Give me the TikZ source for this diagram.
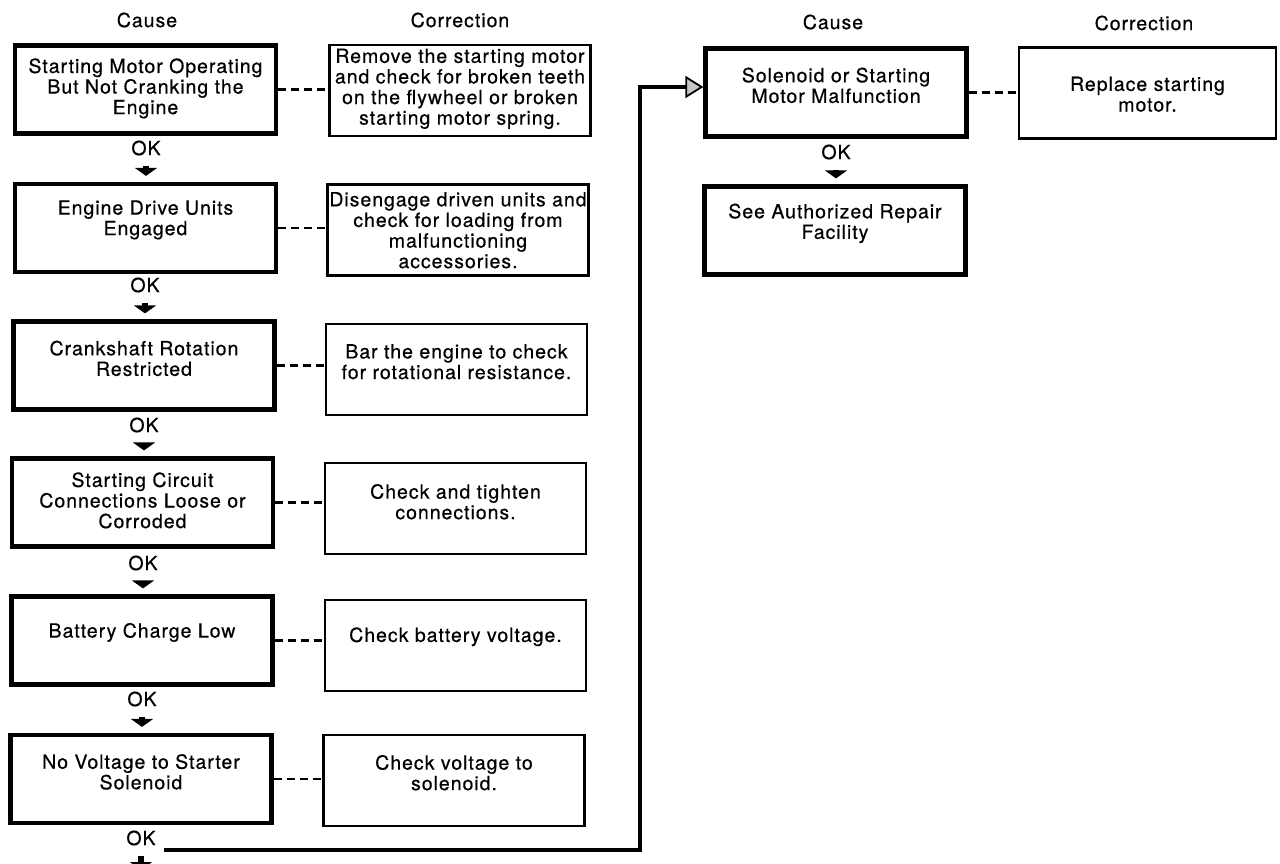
\documentclass[tikz,border=0pt]{standalone}
\usepackage{fontspec}
\setmainfont{TeX Gyre Heros}[LetterSpace=5,FakeBold=0.5]
\usetikzlibrary{arrows.meta,calc}
\begin{document}
\begin{tikzpicture}[x=1pt,y=-1pt,
  every node/.style={font=\fontsize{19.5}{20.6}\selectfont},
  causebox/.style={draw, line width=4.2pt, minimum width=261pt, minimum height=88pt, inner sep=0pt},
  corrbox/.style={draw, line width=2.5pt, minimum width=261pt, minimum height=91pt, inner sep=0pt},
  txt/.style={align=center, inner sep=0pt},
  hdr/.style={inner sep=0pt},
  oklbl/.style={inner sep=0pt},
  linkline/.style={line width=2.3pt, dash pattern=on 8pt off 5pt},
  okarrow/.style={line width=6pt, -{Triangle[length=8pt,width=22pt]}, shorten <=10pt, shorten >=6pt},
  flow/.style={line width=3.4pt, -{Triangle[length=18pt,width=22pt,fill=gray!45,line width=1.8pt]}}
]
\fill[white] (0,0) rectangle (1280,863);
\useasboundingbox (0,0) rectangle (1280,863);

% headers
\node[hdr] (h1) at (147,20) {Cause};
\node[hdr] (h2) at (460,20) {Correction};
\node[hdr] (h3) at (833,22) {Cause};
\node[hdr] (h4) at (1144,23) {Correction};

% cause boxes (left)
\node[causebox] (c1) at (145.5,89.5) {};
\node[causebox] (c2) at (145.5,228) {};
\node[causebox] (c3) at (144,365.5) {};
\node[causebox] (c4) at (142.5,502.5) {};
\node[causebox] (c5) at (142,640.5) {};
\node[causebox] (c6) at (141,779) {};

\node[txt] (t1) at ($(c1.north)+(0,45)$) {Starting Motor Operating\\But Not Cranking the\\Engine};
\node[txt] (t2) at ($(c2.north)+(0,38)$) {Engine Drive Units\\Engaged};
\node[txt] (t3) at ($(c3.north)+(0,39)$) {Crankshaft Rotation\\Restricted};
\node[txt] (t4) at ($(c4.north)+(0,44)$) {Starting Circuit\\Connections Loose or\\Corroded};
\node[txt] (t5) at ($(c5.north)+(0,38)$) {Battery Charge Low};
\node[txt] (t6) at ($(c6.north)+(0,39)$) {No Voltage to Starter\\Solenoid};

% correction boxes (left)
\node[corrbox] (r1) at (460,90.5) {};
\node[corrbox] (r2) at (458,230) {};
\node[corrbox] (r3) at (456.5,369.5) {};
\node[corrbox] (r4) at (455.5,508.5) {};
\node[corrbox] (r5) at (455.5,645.5) {};
\node[corrbox] (r6) at (454,780.5) {};

\node[txt] (u1) at ($(r1.north)+(0,45)$) {Remove the starting motor\\and check for broken teeth\\on the flywheel or broken\\starting motor spring.};
\node[txt] (u2) at ($(r2.north)+(0,47)$) {Disengage driven units and\\check for loading from\\malfunctioning\\accessories.};
\node[txt] (u3) at ($(r3.north)+(0,39)$) {Bar the engine to check\\for rotational resistance.};
\node[txt] (u4) at ($(r4.north)+(0,40)$) {Check and tighten\\connections.};
\node[txt] (u5) at ($(r5.north)+(0,38)$) {Check battery voltage.};
\node[txt] (u6) at ($(r6.north)+(0,39)$) {Check voltage to\\solenoid.};

% right column
\node[causebox] (s1) at (836,92.5) {};
\node[causebox] (s2) at (835,230.5) {};
\node[corrbox, minimum width=257pt] (q1) at (1147.5,93) {};
\node[txt] (v1) at ($(s1.north)+(0,39)$) {Solenoid or Starting\\Motor Malfunction};
\node[txt] (v2) at ($(s2.north)+(0,39)$) {See Authorized Repair\\Facility};
\node[txt] (w1) at ($(q1.north)+(0,48)$) {Replace starting\\motor.};

% OK labels
\node[oklbl] (ok1) at (146,148) {OK};
\node[oklbl] (ok2) at (145,285) {OK};
\node[oklbl] (ok3) at (144,425) {OK};
\node[oklbl] (ok4) at (143,563) {OK};
\node[oklbl] (ok5) at (142,699) {OK};
\node[oklbl] (ok6) at (141,838) {OK};
\node[oklbl] (ok7) at (836,152) {OK};

% dashed links
\foreach \a/\b in {c1/r1,c2/r2,c3/r3,c4/r4,c5/r5,c6/r6,s1/q1}
  \draw[linkline] (\a.east) -- (\a.east -| \b.west);

% OK arrows
\draw[okarrow] (ok1.south) -- (ok1.south |- c2.north);
\draw[okarrow] (ok2.south) -- (ok2.south |- c3.north);
\draw[okarrow] (ok3.south) -- (ok3.south |- c4.north);
\draw[okarrow] (ok4.south) -- (ok4.south |- c5.north);
\draw[okarrow] (ok5.south) -- (ok5.south |- c6.north);
\draw[okarrow] (ok7.south) -- (ok7.south |- s2.north);
\coordinate (endc) at (141,876);
\draw[okarrow] (ok6.south) -- (endc);

% long connector
\coordinate (lstart) at (164,850);
\coordinate (lbend) at (640,850);
\draw[flow] (lstart) -- (lbend) |- ([yshift=5.5pt]s1.west);
\end{tikzpicture}
\end{document}
